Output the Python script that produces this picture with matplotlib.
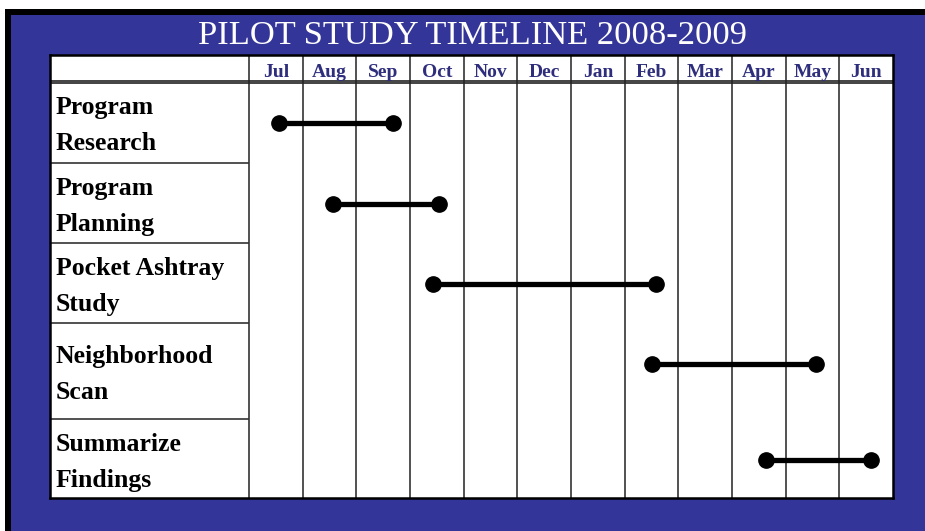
import matplotlib
matplotlib.use("Agg")
import matplotlib.pyplot as plt
from matplotlib.patches import Rectangle

# ---- data ----
title = "PILOT STUDY TIMELINE 2008-2009"
months = ["Jul", "Aug", "Sep", "Oct", "Nov", "Dec", "Jan", "Feb", "Mar", "Apr", "May", "Jun"]
tasks = ["Program\nResearch", "Program\nPlanning", "Pocket Ashtray\nStudy",
         "Neighborhood\nScan", "Summarize\nFindings"]
starts = [0.56, 1.57, 3.43, 7.51, 9.63]   # in months from start of Jul
ends = [2.68, 3.54, 7.58, 10.56, 11.59]

# ---- layout (pixels) ----
W, H = 925, 531
row_heights = [81, 80, 80, 96, 79]
text_pad = [0, 0, 0, 8, 0]
header_h = 27
col_px = (893 - 249) / 12.0
label_w = (249 - 50) / col_px

BLUE = "#343598"
NAVY = "#2e2e7c"
SERIF = ["Liberation Serif", "DejaVu Serif"]

fig = plt.figure(figsize=(W / 100, H / 100), dpi=100)
fig.patch.set_facecolor("white")

bg = fig.add_axes([0, 0, 1, 1])
bg.set_xlim(0, W)
bg.set_ylim(H, 0)
bg.axis("off")
bg.add_patch(Rectangle((5, 9), W - 5, H - 9, facecolor="black", edgecolor="none"))
bg.add_patch(Rectangle((11, 15), W - 11, H - 15, facecolor=BLUE, edgecolor="none"))
bg.text(472, 44, title, color="white", fontsize=24.8, family=SERIF,
        ha="center", va="baseline")

total_h = sum(row_heights)
ax = fig.add_axes([50 / W, (H - 498) / H, (893 - 50) / W, (498 - 55) / H])
ax.set_xlim(-label_w, 12)
ax.set_ylim(total_h, -header_h)
ax.set_facecolor("white")
ax.set_xticks([])
ax.set_yticks([])
for s in ax.spines.values():
    s.set_color("black")
    s.set_linewidth(1.8)

# grid lines
ax.vlines(range(0, 12), -header_h, total_h, color="#333333", lw=1.2)
ax.hlines([-1.3, 1.3], -label_w, 12, color="#222222", lw=1.2)
tops = [sum(row_heights[:i]) for i in range(len(row_heights))]
ax.hlines(tops[1:], -label_w, 0, color="#333333", lw=1.2)

# header
for i, m in enumerate(months):
    ax.text(i + 0.5, -5, m, ha="center", va="baseline", fontsize=14,
            fontweight="bold", color=NAVY, family=SERIF)

# row labels and bars
for i, t in enumerate(tasks):
    l1, l2 = t.split("\n")
    top = tops[i] + text_pad[i]
    ax.text(-label_w + 6 / col_px, top + 32, l1, ha="left", va="baseline",
            fontsize=18.5, fontweight="bold", color="black", family=SERIF)
    ax.text(-label_w + 6 / col_px, top + 68, l2, ha="left", va="baseline",
            fontsize=18.5, fontweight="bold", color="black", family=SERIF)
    y = tops[i] + 41
    ax.plot([starts[i], ends[i]], [y, y], color="black", lw=3.8,
            marker="o", ms=11, solid_capstyle="butt")

fig.savefig("out.png", dpi=100)
